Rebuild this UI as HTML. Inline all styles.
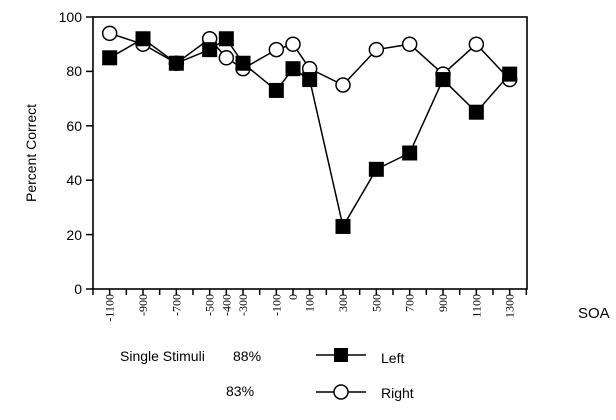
<!DOCTYPE html>
<html><head><style>body{margin:0;background:#fff}</style></head><body>
<svg width="616" height="415" xmlns="http://www.w3.org/2000/svg" font-family="Liberation Sans, sans-serif">
<rect x="0" y="0" width="616" height="415" fill="#fff"/>
<rect x="93" y="17" width="434" height="272" fill="none" stroke="#000" stroke-width="1.6"/>
<g font-size="14" text-anchor="end">
<text x="82" y="22">100</text><text x="82" y="76">80</text><text x="82" y="131">60</text><text x="82" y="185">40</text><text x="82" y="240">20</text><text x="82" y="294">0</text>
</g>
<g stroke="#000" stroke-width="1.5">
<line x1="86" y1="17" x2="93" y2="17"/><line x1="86" y1="71.4" x2="93" y2="71.4"/><line x1="86" y1="125.8" x2="93" y2="125.8"/><line x1="86" y1="180.2" x2="93" y2="180.2"/><line x1="86" y1="234.6" x2="93" y2="234.6"/><line x1="86" y1="289" x2="93" y2="289"/>
</g>
<g id="xt" stroke="#000" stroke-width="1.5"></g>
<g id="xl" font-family="Liberation Serif, serif" font-size="12"></g>
<text transform="translate(36,153) rotate(-90)" font-size="14" text-anchor="middle">Percent Correct</text>
<text x="578" y="318" font-size="15">SOA</text>
<g id="plot"></g>
<g font-size="14">
<text x="120" y="361">Single Stimuli</text><text x="233" y="361">88%</text><text x="226" y="396">83%</text>
<text x="381" y="363">Left</text><text x="381" y="398">Right</text>
</g>
<line x1="316" y1="355" x2="366" y2="355" stroke="#000" stroke-width="1.5"/>
<rect x="334" y="348" width="14" height="14" fill="#000"/>
<line x1="316" y1="392" x2="366" y2="392" stroke="#000" stroke-width="1.5"/>
<circle cx="341" cy="392" r="7" fill="#fff" stroke="#000" stroke-width="1.5"/>
</svg>
<script>
const NS="http://www.w3.org/2000/svg";
const X=v=>93+(v+1200)/100*16.667, Y=v=>289-v*2.72;
const xt=document.getElementById('xt');
for(let v=-1200;v<=1400;v+=100){const l=document.createElementNS(NS,'line');l.setAttribute('x1',X(v));l.setAttribute('x2',X(v));l.setAttribute('y1',289);l.setAttribute('y2',295);xt.appendChild(l);}
const xs=[-1100,-900,-700,-500,-400,-300,-100,0,100,300,500,700,900,1100,1300];
const xl=document.getElementById('xl');
xs.forEach(v=>{const t=document.createElementNS(NS,'text');t.setAttribute('transform',`translate(${X(v)+4},294) rotate(-90)`);t.setAttribute('text-anchor','end');t.textContent=v;xl.appendChild(t);});
const L=[85,92,83,88,92,83,73,81,77,23,44,50,77,65,79];
const R=[94,90,83,92,85,81,88,90,81,75,88,90,79,90,77];
const p=document.getElementById('plot');
function line(d){const pl=document.createElementNS(NS,'polyline');pl.setAttribute('points',xs.map((v,i)=>X(v)+','+Y(d[i])).join(' '));pl.setAttribute('fill','none');pl.setAttribute('stroke','#000');pl.setAttribute('stroke-width','1.5');p.appendChild(pl);}
line(R);line(L);
xs.forEach((v,i)=>{const c=document.createElementNS(NS,'circle');c.setAttribute('cx',X(v));c.setAttribute('cy',Y(R[i]));c.setAttribute('r',7);c.setAttribute('fill','#fff');c.setAttribute('stroke','#000');c.setAttribute('stroke-width','1.5');p.appendChild(c);});
xs.forEach((v,i)=>{const r=document.createElementNS(NS,'rect');r.setAttribute('x',X(v)-7.5);r.setAttribute('y',Y(L[i])-7.5);r.setAttribute('width',15);r.setAttribute('height',15);p.appendChild(r);});
</script>
</body></html>
